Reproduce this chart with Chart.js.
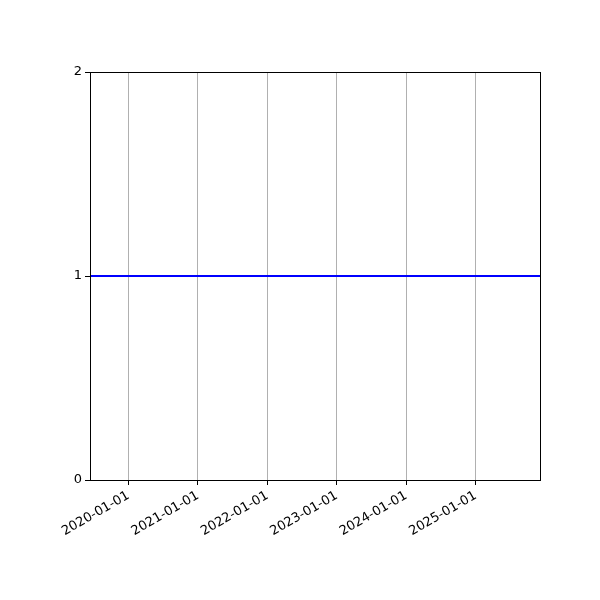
<!DOCTYPE html>
<html>
<head>
<meta charset="utf-8">
<script src="https://cdn.jsdelivr.net/npm/chart.js@4"></script>
<style>
html,body{margin:0;padding:0;background:#fff;}
#wrap{width:600px;height:600px;}
</style>
</head>
<body>
<div id="wrap"><canvas id="c" width="600" height="600"></canvas></div>
<script>
const dates = ['2019-06-13', '2025-12-05'];
const values = [1, 1];
const xTickDates = ['2020-01-01','2021-01-01','2022-01-01','2023-01-01','2024-01-01','2025-01-01'];
const yTicks = [0, 1, 2];

const toMs = d => Date.parse(d + 'T00:00:00Z');
const pad2 = n => String(n).padStart(2,'0');
const fmt = ms => { const d = new Date(ms); return d.getUTCFullYear()+'-'+pad2(d.getUTCMonth()+1)+'-'+pad2(d.getUTCDate()); };

const frame = {
  id:'frame',
  afterDatasetsDraw(chart){
    const {ctx, chartArea:a} = chart;
    ctx.save();
    ctx.strokeStyle='#000'; ctx.lineWidth=1;
    ctx.strokeRect(Math.round(a.left)+0.5, Math.round(a.top)+0.5, Math.round(a.right-a.left), Math.round(a.bottom-a.top));
    ctx.restore();
  }
};

new Chart(document.getElementById('c'), {
  type:'line',
  data:{ datasets:[{ data: dates.map((d,i)=>({x:toMs(d), y:values[i]})), borderColor:'#0000ff', borderWidth:2, pointRadius:0, fill:false, tension:0 }]},
  options:{
    responsive:false, animation:false,
    layout:{ padding:{ top:72, right:60, left:0, bottom:0 } },
    plugins:{ legend:{display:false}, tooltip:{enabled:false} },
    scales:{
      x:{
        type:'linear', min:toMs(dates[0]), max:toMs(dates[dates.length-1]),
        afterBuildTicks(s){ s.ticks = xTickDates.map(d=>({value:toMs(d)})); },
        afterFit(s){ s.height = 120; },
        grid:{ color:'#b0b0b0', lineWidth:1, drawTicks:true, tickLength:5, tickColor:'#000' },
        border:{ display:true, color:'#000' },
        ticks:{ color:'#000', font:{family:'DejaVu Sans', size:13}, minRotation:30, maxRotation:30, padding:3, autoSkip:false,
          callback:(v)=>fmt(v) }
      },
      y:{
        min:0, max:2,
        afterBuildTicks(s){ s.ticks = yTicks.map(v=>({value:v})); },
        afterFit(s){ s.width = 90; },
        grid:{ display:true, drawOnChartArea:false, drawTicks:true, tickLength:5, tickColor:'#000' },
        border:{ display:true, color:'#000' },
        ticks:{ color:'#000', font:{family:'DejaVu Sans', size:13}, padding:3, callback:v=>String(v) }
      }
    }
  },
  plugins:[frame]
});
</script>
</body>
</html>
